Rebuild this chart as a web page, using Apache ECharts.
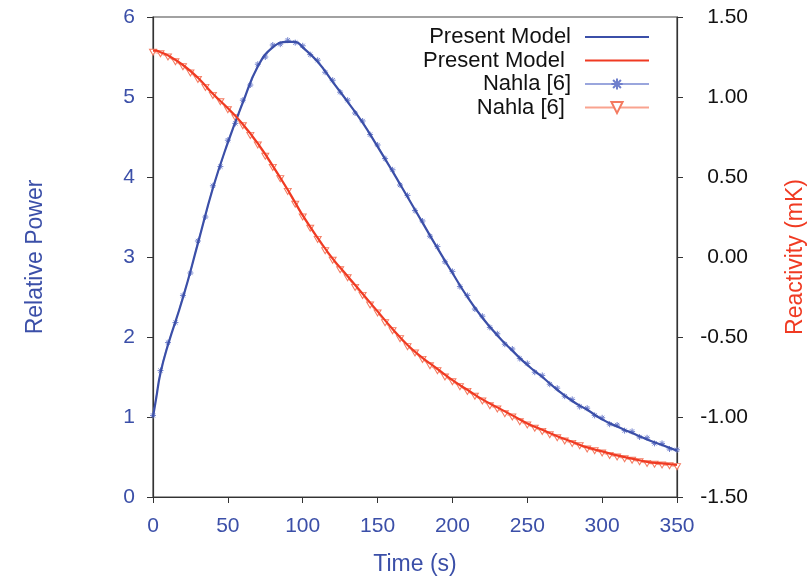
<!DOCTYPE html>
<html>
<head>
<meta charset="utf-8">
<script src="https://cdn.jsdelivr.net/npm/echarts@6/dist/echarts.min.js"></script>
<style>html,body{margin:0;padding:0;background:#fff;}#c{width:808px;height:578px;}</style>
</head>
<body>
<div id="c"></div>
<script>
// Model time grid (s)
var modelTime = [0, 2, 5, 10, 20, 30, 40, 50, 60, 70, 80, 90, 95, 100, 110, 120, 130, 140, 150, 160, 170, 180, 190, 200, 210, 220, 230, 240, 250, 260, 270, 280, 290, 300, 310, 320, 330, 340, 350];
// Present Model: relative power
var modelPower = [1.00, 1.22, 1.55, 1.90, 2.49, 3.17, 3.86, 4.43, 4.93, 5.38, 5.62, 5.69, 5.69, 5.62, 5.44, 5.19, 4.94, 4.68, 4.38, 4.07, 3.75, 3.43, 3.11, 2.80, 2.50, 2.24, 2.02, 1.83, 1.65, 1.50, 1.34, 1.20, 1.09, 0.97, 0.88, 0.80, 0.72, 0.65, 0.58];
// Present Model: reactivity (mK)
var modelReact = [1.29, 1.29, 1.28, 1.26, 1.20, 1.12, 1.02, 0.93, 0.83, 0.71, 0.57, 0.42, 0.34, 0.26, 0.12, -0.01, -0.12, -0.23, -0.34, -0.45, -0.55, -0.63, -0.70, -0.77, -0.83, -0.89, -0.94, -0.99, -1.04, -1.08, -1.12, -1.155, -1.19, -1.215, -1.24, -1.26, -1.28, -1.29, -1.30];

// Nahla [6] time grid (s)
var nahlaTime = [0,5,10,15,20,25,30,35,40,45,50,55,60,65,70,75,80,85,90,95,100,105,110,115,120,125,130,135,140,145,150,155,160,165,170,175,180,185,190,195,200,205,210,215,220,225,230,235,240,245,250,255,260,265,270,275,280,285,290,295,300,305,310,315,320,325,330,335,340,345,350];
var nahlaPower = [1.02,1.58,1.93,2.18,2.52,2.80,3.20,3.50,3.89,4.13,4.46,4.67,4.96,5.15,5.41,5.50,5.65,5.66,5.71,5.68,5.64,5.53,5.46,5.31,5.21,5.06,4.96,4.80,4.70,4.53,4.40,4.23,4.09,3.90,3.77,3.58,3.45,3.26,3.13,2.94,2.82,2.63,2.52,2.35,2.26,2.12,2.04,1.91,1.85,1.73,1.67,1.56,1.52,1.41,1.36,1.26,1.22,1.13,1.11,1.02,0.99,0.91,0.90,0.83,0.82,0.75,0.74,0.67,0.67,0.60,0.59];
var nahlaReact = [1.28,1.27,1.25,1.22,1.19,1.15,1.11,1.06,1.01,0.97,0.92,0.87,0.82,0.76,0.70,0.63,0.56,0.49,0.41,0.33,0.25,0.18,0.11,0.04,-0.02,-0.08,-0.13,-0.19,-0.24,-0.30,-0.35,-0.41,-0.46,-0.51,-0.56,-0.60,-0.64,-0.68,-0.71,-0.75,-0.78,-0.81,-0.84,-0.87,-0.90,-0.93,-0.95,-0.98,-1.00,-1.03,-1.05,-1.07,-1.09,-1.11,-1.13,-1.15,-1.165,-1.18,-1.20,-1.21,-1.225,-1.24,-1.25,-1.26,-1.27,-1.28,-1.29,-1.295,-1.30,-1.305,-1.31];

var xTicks = [0, 50, 100, 150, 200, 250, 300, 350];
var leftTicks = [0, 1, 2, 3, 4, 5, 6];
var rightTicks = [-1.5, -1.0, -0.5, 0.0, 0.5, 1.0, 1.5];

function pairs(t, v) { return t.map(function (x, i) { return [x, v[i]]; }); }

var BLUE = '#3b4fa8';
var RED = '#f03a22';
var FONT = 'Liberation Sans';
var STAR = 'path://M0,5 L10,5 M5,0 L5,10 M1.5,1.5 L8.5,8.5 M8.5,1.5 L1.5,8.5';
var TRI = 'path://M0,0 L10,0 L5,9 Z';

var chart = echarts.init(document.getElementById('c'), null, {renderer: 'canvas'});
chart.setOption({
  animation: false,
  backgroundColor: '#fff',
  textStyle: {fontFamily: FONT},
  grid: {left: 153, right: 131, top: 17, bottom: 81, containLabel: false, outerBoundsMode: 'none',
         show: true, borderColor: '#444', borderWidth: 1.2},
  legend: {
    orient: 'vertical', right: 153, top: 21, align: 'right',
    itemWidth: 64, itemHeight: 14, itemGap: 1.5,
    textStyle: {fontFamily: FONT, fontSize: 22, color: '#111', lineHeight: 22, padding: [0, 9, 0, 0]},
    data: [
      {name: 'Present Model', itemStyle: {opacity: 0}},
      {name: 'Present Model ', itemStyle: {opacity: 0}},
      {name: 'Nahla [6]'},
      {name: 'Nahla [6] '}
    ]
  },
  xAxis: {
    type: 'value', min: xTicks[0], max: xTicks[xTicks.length - 1], interval: 50,
    name: 'Time (s)', nameLocation: 'middle', nameGap: 56,
    nameTextStyle: {color: BLUE, fontSize: 23, fontFamily: FONT},
    axisLine: {show: true, lineStyle: {color: '#333', width: 1.2}},
    axisTick: {show: true, inside: false, length: 6, lineStyle: {color: '#333'}},
    axisLabel: {color: BLUE, fontSize: 21, fontFamily: FONT, margin: 19},
    splitLine: {show: false}
  },
  yAxis: [
    {
      type: 'value', min: leftTicks[0], max: leftTicks[leftTicks.length - 1], interval: 1,
      name: 'Relative Power', nameLocation: 'middle', nameGap: 106, nameRotate: 90,
      nameTextStyle: {color: BLUE, fontSize: 23, fontFamily: FONT},
      axisLine: {show: true, lineStyle: {color: '#333', width: 1.2}},
      axisTick: {show: true, inside: false, length: 6, lineStyle: {color: '#333'}},
      axisLabel: {color: BLUE, fontSize: 21, fontFamily: FONT, margin: 18},
      splitLine: {show: false}
    },
    {
      type: 'value', position: 'right', min: rightTicks[0], max: rightTicks[rightTicks.length - 1], interval: 0.5,
      name: 'Reactivity (mK)', nameLocation: 'middle', nameGap: 107, nameRotate: 90,
      nameTextStyle: {color: RED, fontSize: 23, fontFamily: FONT},
      axisLine: {show: true, lineStyle: {color: '#333', width: 1.2}},
      axisTick: {show: true, inside: false, length: 6, lineStyle: {color: '#333'}},
      axisLabel: {color: '#111', fontSize: 21, fontFamily: FONT, margin: 71, align: 'right',
        formatter: function (v) { return v.toFixed(2); }},
      splitLine: {show: false}
    }
  ],
  series: [
    {
      name: 'Nahla [6]', type: 'line', yAxisIndex: 0, data: pairs(nahlaTime, nahlaPower),
      symbol: STAR, symbolSize: 6, showSymbol: true,
      lineStyle: {color: '#9aa6dd', width: 1},
      itemStyle: {color: 'none', borderColor: '#6f7fcc', borderWidth: 1},
      z: 2
    },
    {
      name: 'Nahla [6] ', type: 'line', yAxisIndex: 1, data: pairs(nahlaTime, nahlaReact),
      symbol: TRI, symbolSize: [7, 6], showSymbol: true,
      lineStyle: {color: '#f9a38f', width: 1},
      itemStyle: {color: '#fff', borderColor: '#f47a60', borderWidth: 1},
      z: 2
    },
    {
      name: 'Present Model', type: 'line', yAxisIndex: 0, data: pairs(modelTime, modelPower),
      smooth: 0.5, symbol: 'none', lineStyle: {color: BLUE, width: 2.2}, itemStyle: {color: BLUE}, z: 3
    },
    {
      name: 'Present Model ', type: 'line', yAxisIndex: 1, data: pairs(modelTime, modelReact),
      smooth: 0.5, symbol: 'none', lineStyle: {color: RED, width: 2.2}, itemStyle: {color: RED}, z: 3
    }
  ]
});
</script>
</body>
</html>
